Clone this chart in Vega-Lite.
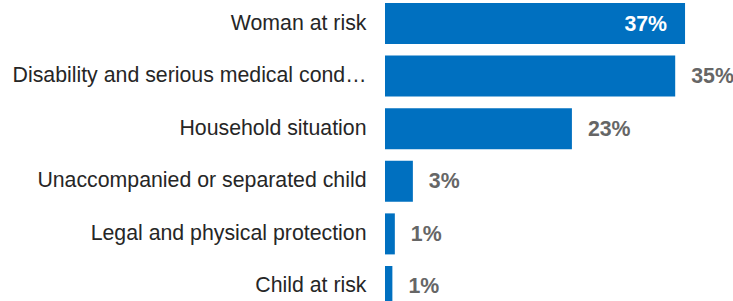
{
  "$schema": "https://vega.github.io/schema/vega-lite/v6.json",
  "width": 348,
  "height": 301,
  "autosize": {"type": "none"},
  "padding": {"left": 385, "top": 0, "right": 0, "bottom": 0},
  "background": "white",
  "config": {"view": {"stroke": null}, "font": "Liberation Sans"},
  "data": {
    "values": [
      {"category": "Woman at risk", "value": 0.366},
      {"category": "Disability and serious medical cond…", "value": 0.354},
      {"category": "Household situation", "value": 0.228},
      {"category": "Unaccompanied or separated child", "value": 0.034},
      {"category": "Legal and physical protection", "value": 0.012},
      {"category": "Child at risk", "value": 0.009}
    ]
  },
  "encoding": {
    "y": {
      "field": "category",
      "type": "nominal",
      "sort": ["Woman at risk", "Disability and serious medical cond…", "Household situation", "Unaccompanied or separated child", "Legal and physical protection", "Child at risk"],
      "scale": {"range": [3, 307], "paddingInner": 0.22, "paddingOuter": 0},
      "axis": {
        "title": null,
        "domain": false,
        "ticks": false,
        "labelPadding": 19,
        "labelFontSize": 21.3,
        "labelColor": "#262626",
        "labelFont": "Liberation Sans",
        "labelLimit": 400
      }
    },
    "x": {
      "field": "value",
      "type": "quantitative",
      "scale": {"domain": [0, 0.4245], "nice": false, "zero": true},
      "axis": null
    }
  },
  "layer": [
    {"mark": {"type": "bar", "color": "#0070c0"}},
    {
      "transform": [{"filter": "datum.value > 0.36"}],
      "mark": {"type": "text", "align": "right", "baseline": "middle", "dx": -18, "dy": 1, "fontSize": 21.3, "fontWeight": "bold", "color": "white", "font": "Liberation Sans"},
      "encoding": {"text": {"field": "value", "type": "quantitative", "format": ".0%"}}
    },
    {
      "transform": [{"filter": "datum.value <= 0.36"}],
      "mark": {"type": "text", "align": "left", "baseline": "middle", "dx": 16, "dy": 1, "fontSize": 21.3, "fontWeight": "bold", "color": "#666666", "font": "Liberation Sans"},
      "encoding": {"text": {"field": "value", "type": "quantitative", "format": ".0%"}}
    }
  ]
}
